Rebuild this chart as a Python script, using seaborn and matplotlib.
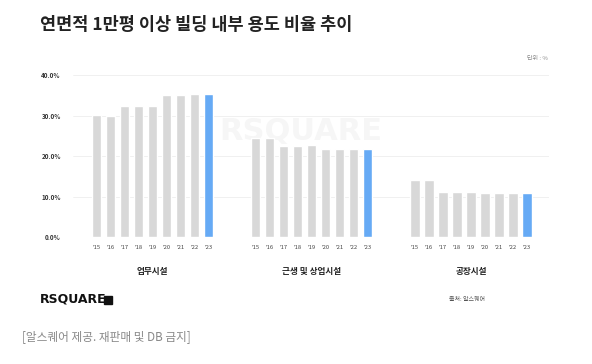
import matplotlib
matplotlib.use("Agg")
import matplotlib.pyplot as plt
import seaborn as sns
import pandas as pd
import numpy as np

years = ["'15", "'16", "'17", "'18", "'19", "'20", "'21", "'22", "'23"]
groups = ["업무시설", "근생 및 상업시설", "공장시설"]
office = [30.1, 30.0, 32.3, 32.3, 32.3, 35.0, 35.0, 35.2, 35.3]
retail = [24.5, 24.5, 22.5, 22.5, 22.7, 21.8, 21.8, 21.8, 21.8]
factory = [14.0, 14.0, 11.2, 11.2, 11.1, 10.8, 10.8, 10.8, 10.8]
yticks = [0, 10, 20, 30, 40]

sns.set_theme(style="white")
plt.rcParams['font.family'] = ['Noto Sans CJK KR', 'DejaVu Sans']

GAP = 11.36
rows = []
for g, vals in enumerate([office, retail, factory]):
    for i, (yr, v) in enumerate(zip(years, vals)):
        rows.append({"pos": g * GAP + i, "value": v, "year": yr,
                     "hl": "cur" if i == len(years) - 1 else "prev"})
df = pd.DataFrame(rows)

fig = plt.figure(figsize=(5.92, 3.64), dpi=100)
ax = fig.add_axes([73.3 / 592, 1 - 237.3 / 364, (549.3 - 73.3) / 592, (237.3 - 75) / 364])

sns.barplot(data=df, x="pos", y="value", hue="hl", native_scale=True,
            palette={"prev": "#d8d8d8", "cur": "#66aaf5"}, width=0.67,
            legend=False, ax=ax, saturation=1, zorder=3)

ax.set_xlim(-1.64, 32.31)
ax.set_ylim(0, 40)
ax.set_yticks(yticks)
ax.set_yticklabels([f"{t:.1f}%" for t in yticks], fontsize=4.5, color="#333333", fontweight="bold")
ax.set_xticks([])
ax.set_xlabel("")
ax.set_ylabel("")
ax.tick_params(axis="y", length=0, pad=9)
for s in ax.spines.values():
    s.set_visible(False)
ax.yaxis.grid(True, color="#eeeeee", linewidth=0.6, zorder=0)
ax.set_axisbelow(True)

# watermark
ax.text(14.6, 26.0, "RSQUARE", fontsize=22, fontweight="bold", color="#f6f6f6",
        ha="center", va="center", zorder=1, family="DejaVu Sans")

for _, r in df.iterrows():
    ax.text(r["pos"], -2.5, r["year"], ha="center", va="center", fontsize=4.2, color="#444444")
for g, name in enumerate(groups):
    ax.text(g * GAP + 4, -8.5, name, ha="center", va="center", fontsize=6.2,
            fontweight="bold", color="#222222")

fig.text(40 / 592, 1 - 25 / 364, "연면적 1만평 이상 빌딩 내부 용도 비율 추이", fontsize=12.6,
         fontweight="bold", color="#222222", ha="left", va="center")
fig.text(548 / 592, 1 - 59 / 364, "단위 : %", fontsize=4.3, color="#888888", ha="right", va="center")
fig.text(40 / 592, 1 - 299 / 364, "RSQUARE", fontsize=9, fontweight="bold", color="#111111",
         ha="left", va="center", family="DejaVu Sans")
fig.patches.append(plt.Rectangle((104 / 592, 1 - 303.5 / 364), 8 / 592, 8 / 364,
                                 transform=fig.transFigure, color="#111111", figure=fig))
fig.text(485 / 592, 1 - 299 / 364, "출처: 알스퀘어", fontsize=4.3, color="#555555", ha="right", va="center")
fig.text(22 / 592, 1 - 337 / 364, "[알스퀘어 제공. 재판매 및 DB 금지]", fontsize=8.4, color="#888888",
         ha="left", va="center")

fig.savefig("out.png", dpi=100, facecolor="white")
